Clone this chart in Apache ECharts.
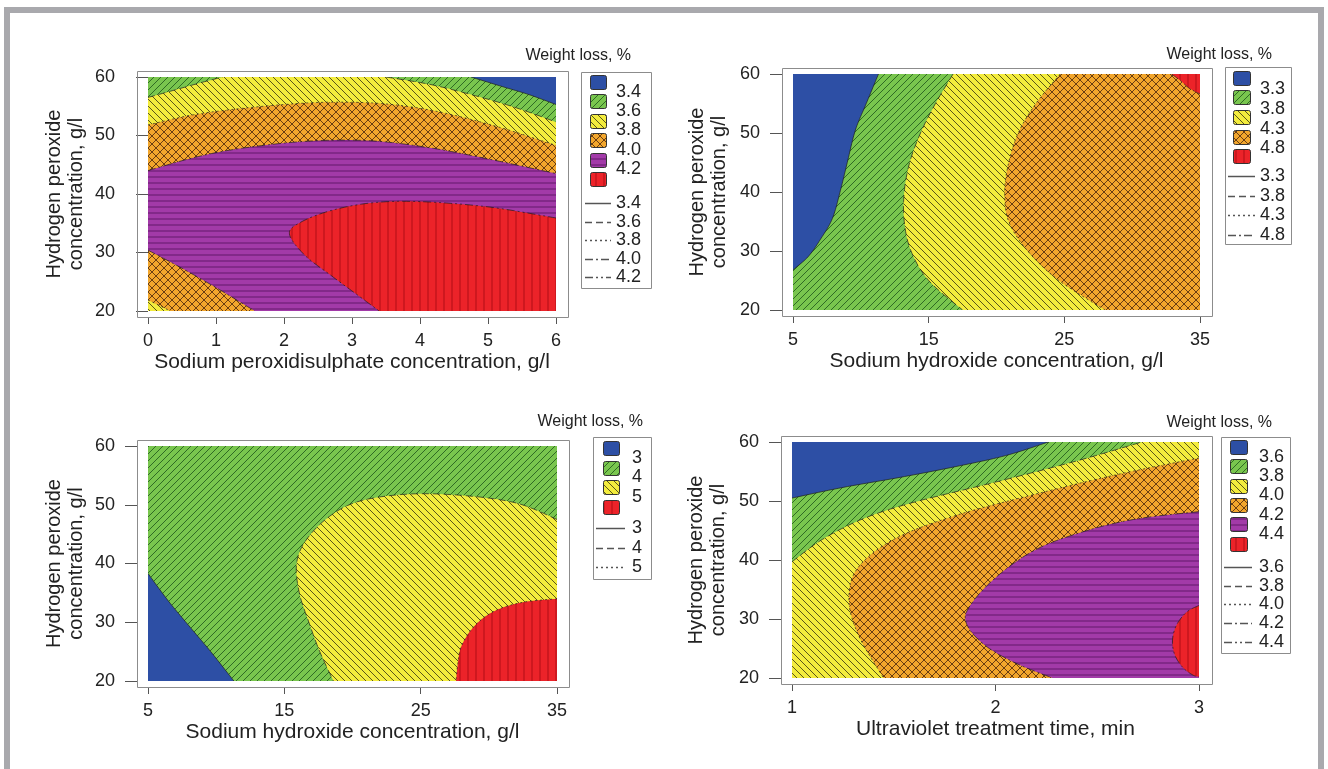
<!DOCTYPE html>
<html><head><meta charset="utf-8">
<script src="https://cdn.jsdelivr.net/npm/echarts@6/dist/echarts.min.js"></script>
<style>html,body{margin:0;padding:0;background:#fff}#c{width:1328px;height:769px}</style>
</head><body><div id="c"></div>
<script>
// ================= DATA =================
const yTitle = 'Hydrogen peroxide\nconcentration, g/l';
const legendTitle = 'Weight loss, %';
const yTicks = [20, 30, 40, 50, 60];

// Panel 1
const p1XTitle = 'Sodium peroxidisulphate concentration, g/l';
const p1XTicks = [0, 1, 2, 3, 4, 5, 6];
const p1Levels = ['3.4', '3.6', '3.8', '4.0', '4.2'];
const p1Fills = ['blue', 'green', 'yellow', 'orange', 'purple', 'red'];
const p1C34 = [[4.75, 60], [5.2, 58.4], [5.6, 57.0], [6, 55.3]];
const p1C36a = [[0, 56.5], [0.4, 57.8], [0.8, 59.1], [1.1, 60]];
const p1C36b = [[3.5, 60], [4.2, 58.6], [5, 56.2], [5.5, 54.4], [6, 52.3]];
const p1C38a = [[0, 51.8], [0.6, 53.4], [1.2, 54.4], [2, 55.3], [2.7, 55.7], [3.5, 55.4], [4.3, 54], [5.2, 51.3], [6, 48.3]];
const p1C38b = [[0, 21.9], [0.33, 20]];
const p1C40a = [[0, 44], [0.6, 46], [1.2, 47.5], [2, 48.7], [2.7, 49.2], [3.4, 49.0], [4.2, 47.8], [5, 46], [6, 43.5]];
const p1C40b = [[0, 30.4], [0.5, 27.3], [1, 24], [1.57, 20]];
const p1C42 = [[6, 35.9], [5, 37.8], [4, 38.7], [3.3, 38.5], [2.7, 37.2], [2.25, 35.2], [2.08, 33.2], [2.3, 29.6], [2.7, 26], [3.05, 23], [3.4, 20]];

// Panel 2
const p2XTitle = 'Sodium hydroxide concentration, g/l';
const p2XTicks = [5, 15, 25, 35];
const p2Levels = ['3.3', '3.8', '4.3', '4.8'];
const p2Fills = ['blue', 'green', 'yellow', 'orange', 'red'];
const p2C33 = [[11.3, 60], [10.4, 55], [9.6, 50.5], [9, 45], [8.5, 40.3], [7.9, 35.5], [7, 31.9], [6.1, 29], [5, 26.8]];
const p2C38 = [[16.8, 60], [15.5, 55], [14.4, 50], [13.6, 45], [13.2, 40], [13.2, 35], [13.7, 30], [15, 25], [17.5, 20]];
const p2C43 = [[24.7, 60], [22.9, 55], [21.6, 50], [20.9, 45], [20.6, 40], [20.9, 35], [22.3, 30], [24.6, 25], [28, 20]];
const p2C48 = [[32.9, 60], [33.6, 58.8], [34.2, 57.6], [35, 56.6]];

// Panel 3
const p3XTitle = 'Sodium hydroxide concentration, g/l';
const p3XTicks = [5, 15, 25, 35];
const p3Levels = ['3', '4', '5'];
const p3Fills = ['blue', 'green', 'yellow', 'red'];
const p3C3 = [[5, 38.3], [6.5, 33.6], [8, 29.4], [9.6, 25], [11.3, 20]];
const p3C4 = [[35, 47.5], [32, 50.3], [28, 51.6], [24, 51.8], [20.5, 50.6], [18.3, 48], [16.6, 44], [15.9, 40], [16.1, 35], [16.8, 30], [17.6, 25], [18.6, 20]];
const p3C5 = [[35, 34], [32.5, 33.4], [30.5, 32], [29, 29.5], [28, 26], [27.7, 22.5], [27.6, 20]];

// Panel 4
const p4XTitle = 'Ultraviolet treatment time, min';
const p4XTicks = [1, 2, 3];
const p4Levels = ['3.6', '3.8', '4.0', '4.2', '4.4'];
const p4Fills = ['blue', 'green', 'yellow', 'orange', 'purple', 'red'];
const p4C36 = [[1, 50.5], [1.25, 52.3], [1.53, 54], [1.8, 55.8], [2.05, 57.7], [2.26, 60]];
const p4C38 = [[1, 39.7], [1.15, 43.5], [1.35, 47], [1.6, 49.8], [2, 53.2], [2.4, 56.8], [2.72, 60]];
const p4C40 = [[3, 57.3], [2.6, 54.5], [2.2, 51.2], [1.8, 47.5], [1.5, 43.5], [1.32, 38.5], [1.28, 33], [1.33, 27], [1.45, 20]];
const p4C42 = [[3, 48.2], [2.7, 47], [2.45, 45], [2.2, 41.8], [2, 37], [1.87, 32], [1.86, 29], [1.95, 25.5], [2.1, 22.5], [2.28, 20]];
const p4C44 = [[3, 32.3], [2.94, 31.2], [2.89, 29], [2.87, 26.5], [2.88, 24], [2.92, 21.8], [2.97, 20.5], [3, 20.2]];

// ================= REGION ASSEMBLY =================
const S = a => ({ pts: a, smooth: true, rev: false });
const SR = a => ({ pts: a, smooth: true, rev: true });
const L = a => ({ pts: a, smooth: false, rev: false });

const p1Regions = [
  [S(p1C34), L([[6, 20], [0, 20], [0, 60]])],
  [S(p1C36a), S(p1C36b), L([[6, 20], [0, 20]])],
  [S(p1C38a), L([[6, 20]]), SR(p1C38b)],
  [S(p1C40a), L([[6, 20]]), SR(p1C40b)],
  [S(p1C42), L([[6, 20]])]
];
const p1Lines = [[p1C34], [p1C36a, p1C36b], [p1C38a, p1C38b], [p1C40a, p1C40b], [p1C42]];

const p2Regions = [
  [S(p2C33), L([[5, 20], [35, 20], [35, 60]])],
  [S(p2C38), L([[35, 20], [35, 60]])],
  [S(p2C43), L([[35, 20], [35, 60]])],
  [S(p2C48), L([[35, 60]])]
];
const p2Lines = [[p2C33], [p2C38], [p2C43], [p2C48]];

const p3Regions = [
  [S(p3C3), L([[35, 20], [35, 60], [5, 60]])],
  [S(p3C4), L([[35, 20]])],
  [S(p3C5), L([[35, 20]])]
];
const p3Lines = [[p3C3], [p3C4], [p3C5]];

const p4Regions = [
  [S(p4C36), L([[3, 60], [3, 20], [1, 20]])],
  [S(p4C38), L([[3, 60], [3, 20], [1, 20]])],
  [S(p4C40), L([[3, 20]])],
  [S(p4C42), L([[3, 20]])],
  [S(p4C44)]
];
const p4Lines = [[p4C36], [p4C38], [p4C40], [p4C42], [p4C44]];

const P = [
  { levels: p1Levels, fills: p1Fills, xTicks: p1XTicks, xTitle: p1XTitle, regions: p1Regions, lines: p1Lines },
  { levels: p2Levels, fills: p2Fills, xTicks: p2XTicks, xTitle: p2XTitle, regions: p2Regions, lines: p2Lines },
  { levels: p3Levels, fills: p3Fills, xTicks: p3XTicks, xTitle: p3XTitle, regions: p3Regions, lines: p3Lines },
  { levels: p4Levels, fills: p4Fills, xTicks: p4XTicks, xTitle: p4XTitle, regions: p4Regions, lines: p4Lines }
];

// ================= STYLE / LAYOUT =================
const FF = '"Liberation Sans", Arial, Helvetica, sans-serif';
const TXT = '#222';
const XTITLE_FS = 21;
const YTITLE_FS = 20;
const dashes = [null, [7, 4], [2, 3], [8, 3, 2, 3], [8, 3, 2, 3, 2, 3]];
const FILLS = {
  blue: { bg: '#2d4fa5' },
  green: { bg: '#79c64e', line: '#2f6b24', kind: '/', w: 7, h: 7, lw: 1 },
  yellow: { bg: '#f3ec3d', line: '#5a5619', kind: '\\', w: 7, h: 7, lw: 1 },
  orange: { bg: '#f2a62c', line: '#6a3e12', kind: 'x', w: 8, h: 8, lw: 1 },
  purple: { bg: '#a23aa8', line: '#6d1f74', kind: '-', w: 8, h: 6, lw: 1.2 },
  red: { bg: '#ec2329', line: '#c5161c', kind: '|', w: 8, h: 8, lw: 1.5 }
};
const layouts = [
  { grid: [148, 77, 408, 234], frame: [137, 71, 431, 246], yGap: 50,
    lg: { box: [581, 72, 70, 216], titleX: 631, titleY: 56, sqX: 590, sqW: 16, sqH: 14, sqY0: 82, sqStep: 19.4, labX: 616, labDy: 0, lnX1: 585, lnX2: 611, lnY0: 203, lnStep: 18.5 } },
  { grid: [793, 74, 407, 236], frame: [782, 68, 430, 248], yGap: 52,
    lg: { box: [1225, 67, 66, 177], titleX: 1272, titleY: 55, sqX: 1233, sqW: 17, sqH: 14, sqY0: 77.5, sqStep: 19.7, labX: 1260, labDy: 2, lnX1: 1228, lnX2: 1255, lnY0: 176, lnStep: 19.5 } },
  { grid: [148, 446, 409, 235], frame: [137, 440, 432, 247], yGap: 50,
    lg: { box: [593, 437, 58, 142], titleX: 643, titleY: 422, sqX: 603, sqW: 16, sqH: 14, sqY0: 448, sqStep: 19.6, labX: 632, labDy: 0, lnX1: 596, lnX2: 625, lnY0: 528, lnStep: 19.5 } },
  { grid: [792, 442, 407, 236], frame: [781, 436, 431, 248], yGap: 52,
    lg: { box: [1221, 437, 69, 216], titleX: 1272, titleY: 423, sqX: 1230, sqW: 17, sqH: 14, sqY0: 447, sqStep: 19.3, labX: 1259, labDy: 0, lnX1: 1224, lnX2: 1252, lnY0: 567, lnStep: 18.7 } }
];

function makePattern(spec) {
  if (!spec.kind) return spec.bg;
  const c = document.createElement('canvas');
  const w = spec.w, h = spec.h;
  c.width = w; c.height = h;
  const g = c.getContext('2d');
  g.fillStyle = spec.bg; g.fillRect(0, 0, w, h);
  g.strokeStyle = spec.line; g.lineWidth = spec.lw;
  g.beginPath();
  const fwd = () => { for (let k = -1; k <= 1; k++) { g.moveTo(k * w, h); g.lineTo(k * w + w, 0); } };
  const back = () => { for (let k = -1; k <= 1; k++) { g.moveTo(k * w, 0); g.lineTo(k * w + w, h); } };
  if (spec.kind === '/') fwd();
  else if (spec.kind === '\\') back();
  else if (spec.kind === 'x') { fwd(); back(); }
  else if (spec.kind === '-') { g.moveTo(0, h / 2); g.lineTo(w, h / 2); }
  else if (spec.kind === '|') { g.moveTo(w / 2, 0); g.lineTo(w / 2, h); }
  g.stroke();
  return { image: c, repeat: 'repeat' };
}
const pat = {};
Object.keys(FILLS).forEach(k => pat[k] = makePattern(FILLS[k]));

function catmull(px) {
  if (px.length < 3) return px.slice();
  const out = [], n = px.length, N = 12;
  for (let i = 0; i < n - 1; i++) {
    const p0 = px[i === 0 ? 0 : i - 1], p1 = px[i], p2 = px[i + 1], p3 = px[i + 2 < n ? i + 2 : n - 1];
    for (let t = 0; t < N; t++) {
      const s = t / N, s2 = s * s, s3 = s2 * s;
      out.push([0, 1].map(k => 0.5 * (2 * p1[k] + (-p0[k] + p2[k]) * s + (2 * p0[k] - 5 * p1[k] + 4 * p2[k] - p3[k]) * s2 + (-p0[k] + 3 * p1[k] - 3 * p2[k] + p3[k]) * s3)));
    }
  }
  out.push(px[n - 1]);
  return out;
}
function partsToPixels(parts, api) {
  const out = [];
  parts.forEach(p => {
    let px = p.pts.map(d => api.coord(d));
    if (p.smooth) px = catmull(px);
    if (p.rev) px.reverse();
    out.push(...px);
  });
  return out;
}

// ================= OPTION =================
const grids = [], xAxes = [], yAxes = [], series = [], graphics = [];
graphics.push({ type: 'rect', silent: true, z: 0, shape: { x: 7, y: 10, width: 1314, height: 820 }, style: { fill: 'none', stroke: '#a9a9ad', lineWidth: 6 } });

P.forEach((pd, i) => {
  const lay = layouts[i];
  const [gl, gt, gw, gh] = lay.grid;
  const [fx, fy, fw, fh] = lay.frame;
  grids.push({ left: gl, top: gt, width: gw, height: gh, containLabel: false });
  const xt = pd.xTicks, x0 = xt[0], x1 = xt[xt.length - 1], y0 = yTicks[0], y1 = yTicks[yTicks.length - 1];
  xAxes.push({
    gridIndex: i, type: 'value', min: x0, max: x1, interval: xt[1] - xt[0], position: 'bottom',
    offset: (fy + fh) - (gt + gh),
    axisLine: { show: false }, splitLine: { show: false },
    axisTick: { show: true, length: 7, lineStyle: { color: '#555', width: 1 } },
    axisLabel: { fontSize: 18, color: TXT, fontFamily: FF, margin: 15 },
    name: pd.xTitle, nameLocation: 'middle', nameGap: 34,
    nameTextStyle: { fontSize: XTITLE_FS, color: TXT, fontFamily: FF, lineHeight: 22 }
  });
  yAxes.push({
    gridIndex: i, type: 'value', min: y0, max: y1, interval: yTicks[1] - yTicks[0], position: 'left',
    offset: gl - fx,
    axisLine: { show: false }, splitLine: { show: false },
    axisTick: { show: true, length: 12, lineStyle: { color: '#555', width: 1 } },
    axisLabel: { fontSize: 18, color: TXT, fontFamily: FF, margin: 22 },
    name: yTitle, nameLocation: 'middle', nameRotate: 90, nameGap: lay.yGap,
    nameTextStyle: { fontSize: YTITLE_FS, color: TXT, fontFamily: FF, lineHeight: 22, align: 'center' }
  });

  const regs = [{ fill: pd.fills[0], name: '< ' + pd.levels[0], parts: [L([[x0, y0], [x1, y0], [x1, y1], [x0, y1]])] }]
    .concat(pd.regions.map((parts, k) => ({ fill: pd.fills[k + 1], name: pd.levels[k], parts })));
  regs.forEach(r => {
    const data = [].concat(...r.parts.map(p => p.pts));
    series.push({
      type: 'custom', name: r.name, coordinateSystem: 'cartesian2d', xAxisIndex: i, yAxisIndex: i,
      silent: true, animation: false, clip: true, data, encode: { x: 0, y: 1 },
      renderItem: (params, api) => params.dataIndex === 0 ? {
        type: 'polygon', shape: { points: partsToPixels(r.parts, api) }, style: { fill: pat[r.fill], stroke: null }
      } : null
    });
  });
  pd.lines.forEach((pieces, k) => pieces.forEach(piece => {
    series.push({
      type: 'custom', name: 'contour ' + pd.levels[k], coordinateSystem: 'cartesian2d', xAxisIndex: i, yAxisIndex: i,
      silent: true, animation: false, clip: true, data: piece, encode: { x: 0, y: 1 },
      renderItem: (params, api) => params.dataIndex === 0 ? {
        type: 'polyline', shape: { points: catmull(piece.map(d => api.coord(d))) },
        style: { fill: null, stroke: 'rgba(30,30,30,0.7)', lineWidth: 1, lineDash: dashes[k] }
      } : null
    });
  }));

  // frame
  graphics.push({ type: 'rect', silent: true, z: 5, shape: { x: fx + 0.5, y: fy + 0.5, width: fw, height: fh }, style: { fill: 'none', stroke: '#8c8c8c', lineWidth: 1 } });
  // legend
  const lg = lay.lg;
  graphics.push({ type: 'rect', silent: true, z: 5, shape: { x: lg.box[0] + 0.5, y: lg.box[1] + 0.5, width: lg.box[2], height: lg.box[3] }, style: { fill: '#fff', stroke: '#8c8c8c', lineWidth: 1 } });
  graphics.push({ type: 'text', silent: true, z: 6, x: lg.titleX, y: lg.titleY, style: { text: legendTitle, fontSize: 16, fontFamily: FF, fill: TXT, align: 'right', verticalAlign: 'middle' } });
  pd.fills.forEach((f, k) => {
    graphics.push({ type: 'rect', silent: true, z: 6, shape: { x: lg.sqX + 0.5, y: Math.round(lg.sqY0 + k * lg.sqStep - lg.sqH / 2) + 0.5, width: lg.sqW, height: lg.sqH, r: 2 }, style: { fill: pat[f], stroke: '#333', lineWidth: 1 } });
  });
  pd.levels.forEach((lv, k) => {
    graphics.push({ type: 'text', silent: true, z: 6, x: lg.labX, y: lg.sqY0 + (k + 0.5) * lg.sqStep + lg.labDy, style: { text: lv, fontSize: 18, fontFamily: FF, fill: TXT, align: 'left', verticalAlign: 'middle' } });
    const ly = Math.round(lg.lnY0 + k * lg.lnStep) + 0.5;
    graphics.push({ type: 'line', silent: true, z: 6, shape: { x1: lg.lnX1, y1: ly, x2: lg.lnX2, y2: ly }, style: { stroke: '#555', lineWidth: 1.5, lineDash: dashes[k] } });
    graphics.push({ type: 'text', silent: true, z: 6, x: lg.labX, y: ly, style: { text: lv, fontSize: 18, fontFamily: FF, fill: TXT, align: 'left', verticalAlign: 'middle' } });
  });
});

const chart = echarts.init(document.getElementById('c'), null, { renderer: 'canvas' });
chart.setOption({
  animation: false,
  backgroundColor: '#fff',
  grid: grids, xAxis: xAxes, yAxis: yAxes, series, graphic: graphics
});
</script></body></html>
